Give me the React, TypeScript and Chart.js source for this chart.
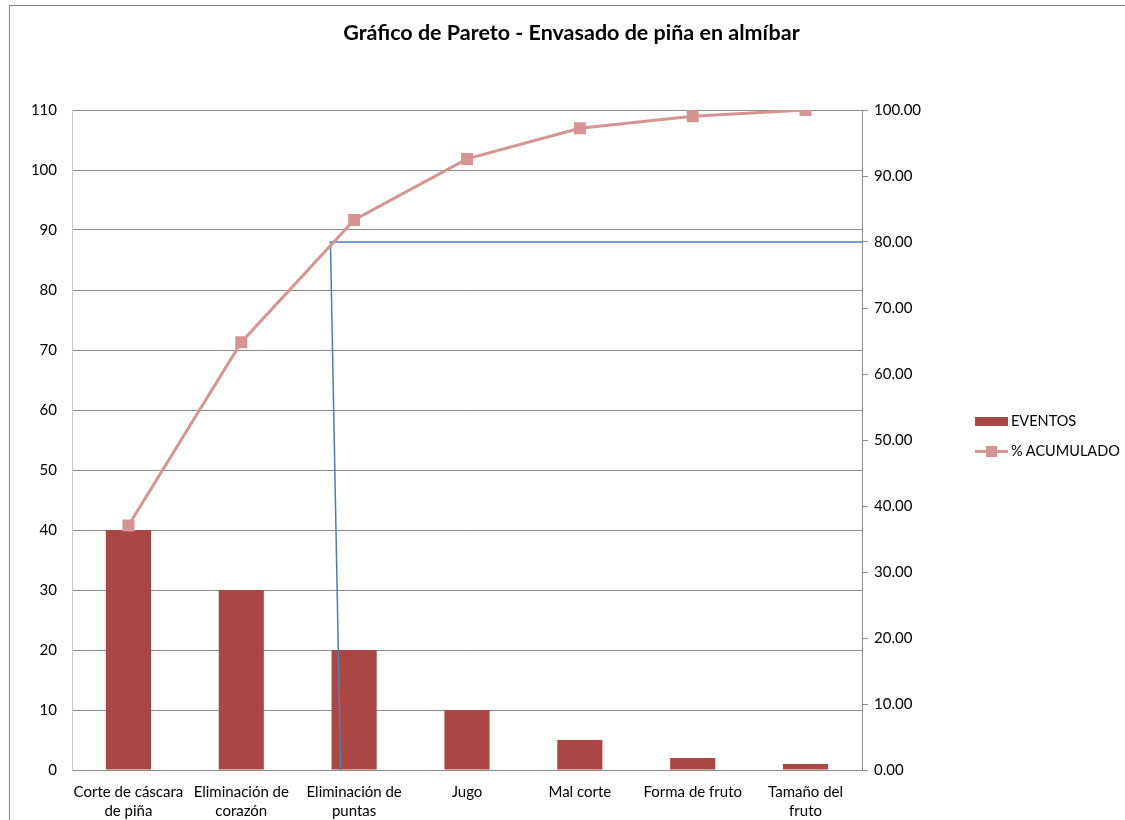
import React, { useEffect, useRef } from "react";
import { Chart, registerables } from "chart.js";

Chart.register(...registerables);

const categories: (string | string[])[] = [
  ["Corte de cáscara", "de piña"],
  ["Eliminación de", "corazón"],
  ["Eliminación de", "puntas"],
  "Jugo",
  "Mal corte",
  "Forma de fruto",
  ["Tamaño del", "fruto"],
];
const eventos = [40, 30, 20, 10, 5, 2, 1];
const acumulado = [37.04, 64.81, 83.33, 92.59, 97.22, 99.07, 100.0];
// reference line at 80 %, x in category-index units (-0.5 .. 6.5 = plot edges)
const corteX = [6.5, 1.79, 1.88];
const corteY = [80, 80, 0];

const TITLE = "Gráfico de Pareto - Envasado de piña en almíbar";
const FONT = "Lato, 'Open Sans', sans-serif";
const BAR = "#AA4744";
const LINE = "#D69593";
const AXIS = "#8C8C8C";

export default function App() {
  const ref = useRef<HTMLCanvasElement | null>(null);

  useEffect(() => {
    document.body.style.margin = "0";
    const ctx = ref.current!.getContext("2d")!;
    const chart = new Chart(ctx, {
      type: "bar",
      data: {
        labels: categories as any,
        datasets: [
          {
            type: "line",
            label: "% ACUMULADO",
            data: acumulado,
            yAxisID: "y1",
            xAxisID: "x",
            borderColor: LINE,
            backgroundColor: LINE,
            borderWidth: 3,
            pointStyle: "rect",
            pointRadius: 8.5,
            pointBorderWidth: 0,
            pointBackgroundColor: LINE,
            tension: 0,
            order: 1,
          } as any,
          {
            type: "line",
            label: "corte",
            parsing: false,
            clip: 0,
            data: corteX.map((x, i) => ({ x, y: corteY[i] })),
            yAxisID: "y1",
            xAxisID: "x",
            borderColor: "#4A7EBB",
            borderWidth: 1.5,
            pointRadius: 0,
            tension: 0,
            order: 2,
          } as any,
          {
            type: "bar",
            label: "EVENTOS",
            data: eventos,
            yAxisID: "y",
            xAxisID: "x",
            backgroundColor: BAR,
            borderWidth: 0,
            grouped: false,
            categoryPercentage: 1,
            barPercentage: 0.4,
            order: 3,
          } as any,
        ],
      },
      options: {
        animation: false,
        responsive: false,
        layout: { padding: { top: 110, right: 203, bottom: 0, left: 0 } },
        plugins: {
          legend: { display: false },
          title: { display: false },
          tooltip: { enabled: false },
        },
        scales: {
          x: {
            type: "category",
            offset: true,
            grid: { display: false },
            border: { display: true, color: AXIS, width: 1 },
            ticks: {
              color: "#000",
              font: { family: FONT, size: 15, lineHeight: 1.27 },
              padding: 5,
              maxRotation: 0,
              autoSkip: false,
            },
            afterFit: (s: any) => {
              s.height = 50;
            },
          },
          y: {
            position: "left",
            min: 0,
            max: 110,
            ticks: {
              stepSize: 10,
              color: "#000",
              font: { family: FONT, size: 15 },
              padding: 15,
            },
            grid: { color: AXIS, lineWidth: 1, drawTicks: false },
            border: { display: true, color: "#C8C8C8" },
            afterFit: (s: any) => {
              s.width = 72;
            },
          },
          y1: {
            position: "right",
            min: 0,
            max: 100,
            ticks: {
              stepSize: 10,
              color: "#000",
              font: { family: FONT, size: 15 },
              padding: 6,
              callback: (v: any) => Number(v).toFixed(2),
            },
            grid: {
              drawOnChartArea: false,
              drawTicks: true,
              tickLength: 6,
              color: AXIS,
            },
            border: { display: true, color: AXIS },
            afterFit: (s: any) => {
              s.width = 60;
            },
          },
        },
      } as any,
    });
    return () => chart.destroy();
  }, []);

  return (
    <div
      style={{
        position: "relative",
        width: 1125,
        height: 820,
        overflow: "hidden",
        background: "#fff",
        fontFamily: FONT,
      }}
    >
      <div
        style={{
          position: "absolute",
          left: 9,
          top: 5,
          width: 1130,
          height: 830,
          border: "1.5px solid #868686",
          boxSizing: "border-box",
        }}
      />
      <canvas
        ref={ref}
        width={1125}
        height={820}
        style={{ position: "absolute", left: 0, top: 0 }}
      />
      <div
        style={{
          position: "absolute",
          left: 0,
          width: 1143,
          top: 19,
          textAlign: "center",
          fontWeight: 700,
          fontSize: 21.5,
          color: "#000",
        }}
      >
        {TITLE}
      </div>
      <div
        style={{
          position: "absolute",
          left: 975,
          top: 411,
          fontSize: 14.5,
          color: "#000",
          lineHeight: "20px",
        }}
      >
        <div style={{ display: "flex", alignItems: "center", height: 20 }}>
          <span
            style={{
              display: "inline-block",
              width: 33,
              height: 9,
              background: BAR,
              marginRight: 3,
            }}
          />
          <span>EVENTOS</span>
        </div>
        <div
          style={{
            display: "flex",
            alignItems: "center",
            height: 20,
            marginTop: 10,
          }}
        >
          <span
            style={{
              position: "relative",
              display: "inline-block",
              width: 33,
              height: 12,
              marginRight: 3,
            }}
          >
            <span
              style={{
                position: "absolute",
                left: 0,
                top: 5,
                width: 33,
                height: 3,
                background: LINE,
              }}
            />
            <span
              style={{
                position: "absolute",
                left: 11,
                top: 1,
                width: 11,
                height: 11,
                background: LINE,
              }}
            />
          </span>
          <span>% ACUMULADO</span>
        </div>
      </div>
    </div>
  );
}
